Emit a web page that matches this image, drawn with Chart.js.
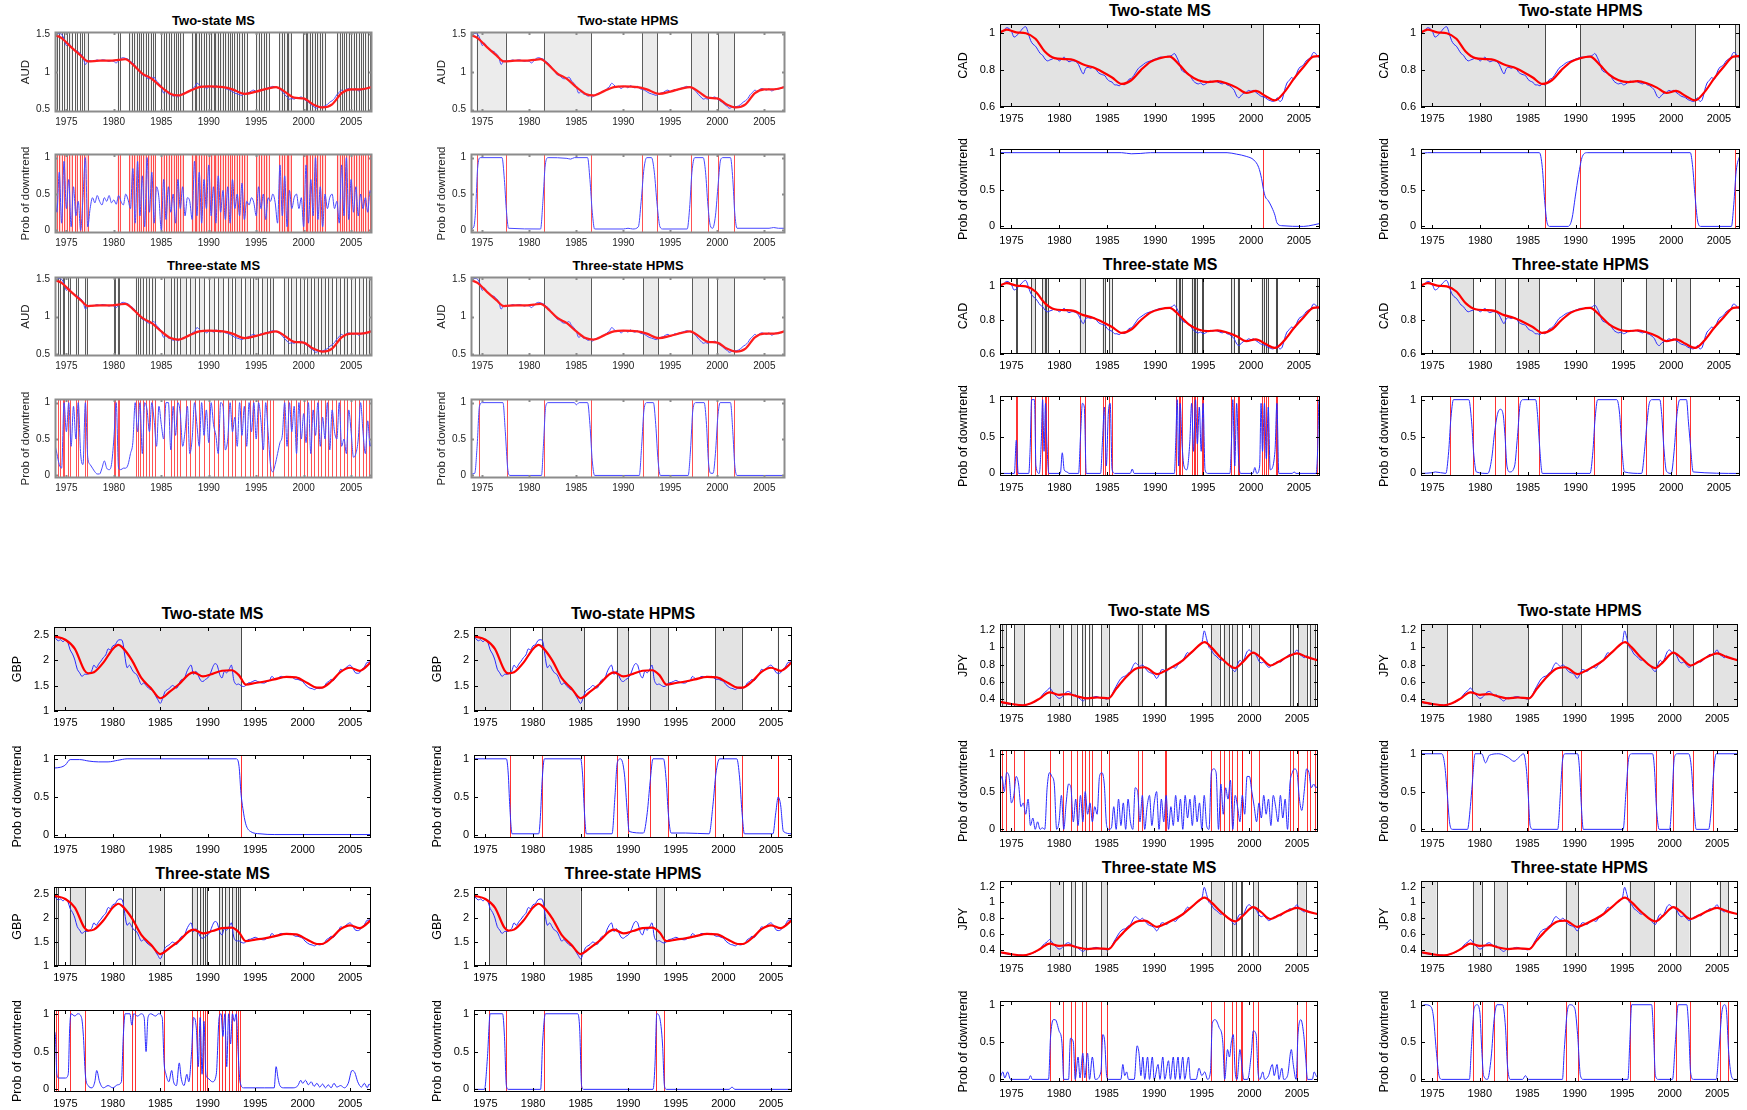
<!DOCTYPE html>
<html>
<head>
<meta charset="utf-8">
<script src="https://cdn.jsdelivr.net/npm/chart.js@4.4.1/dist/chart.umd.min.js"></script>
<style>
  html, body { margin: 0; padding: 0; background: #fff; }
  body { width: 1747px; height: 1110px; position: relative; overflow: hidden;
         font-family: "Liberation Sans", Arial, sans-serif; }
  .ttl { position: absolute; text-align: center; font-weight: bold; color: #000; white-space: nowrap; }
  .pnl { position: absolute; }
</style>
</head>
<body>
<script>
'use strict';

/* ── AXES ─────────────────────────── */
const X_MIN = 1973.8, X_MAX = 2007.2;
const YEAR_TICKS = [1975, 1980, 1985, 1990, 1995, 2000, 2005];
const PROB_TICKS = [0, 0.5, 1];
const AUD_TICKS  = [0.5, 1, 1.5];
const CAD_TICKS  = [0.6, 0.8, 1];
const GBP_TICKS  = [1, 1.5, 2, 2.5];
const JPY_TICKS  = [0.4, 0.6, 0.8, 1, 1.2];

/* ── QUARTERLY DATES ─────────────────────────── */
const QTR = [
  1973.75,
  1974, 1974.25, 1974.5, 1974.75,  1975, 1975.25, 1975.5, 1975.75,
  1976, 1976.25, 1976.5, 1976.75,  1977, 1977.25, 1977.5, 1977.75,
  1978, 1978.25, 1978.5, 1978.75,  1979, 1979.25, 1979.5, 1979.75,
  1980, 1980.25, 1980.5, 1980.75,  1981, 1981.25, 1981.5, 1981.75,
  1982, 1982.25, 1982.5, 1982.75,  1983, 1983.25, 1983.5, 1983.75,
  1984, 1984.25, 1984.5, 1984.75,  1985, 1985.25, 1985.5, 1985.75,
  1986, 1986.25, 1986.5, 1986.75,  1987, 1987.25, 1987.5, 1987.75,
  1988, 1988.25, 1988.5, 1988.75,  1989, 1989.25, 1989.5, 1989.75,
  1990, 1990.25, 1990.5, 1990.75,  1991, 1991.25, 1991.5, 1991.75,
  1992, 1992.25, 1992.5, 1992.75,  1993, 1993.25, 1993.5, 1993.75,
  1994, 1994.25, 1994.5, 1994.75,  1995, 1995.25, 1995.5, 1995.75,
  1996, 1996.25, 1996.5, 1996.75,  1997, 1997.25, 1997.5, 1997.75,
  1998, 1998.25, 1998.5, 1998.75,  1999, 1999.25, 1999.5, 1999.75,
  2000, 2000.25, 2000.5, 2000.75,  2001, 2001.25, 2001.5, 2001.75,
  2002, 2002.25, 2002.5, 2002.75,  2003, 2003.25, 2003.5, 2003.75,
  2004, 2004.25, 2004.5, 2004.75,  2005, 2005.25, 2005.5, 2005.75,
  2006, 2006.25, 2006.5, 2006.75,
  2007, 2007.25
];

/* ── EXCHANGE RATES (quarterly, blue) ─────────────────────────── */
const AUD_RAW = [
  1.48,
  1.50, 1.51, 1.50, 1.44,  1.35, 1.38, 1.33, 1.30,  1.28, 1.27, 1.24, 1.20,  1.10, 1.14, 1.15, 1.14,
  1.15, 1.16, 1.15, 1.16,  1.16, 1.15, 1.14, 1.15,  1.14, 1.12, 1.15, 1.18,  1.19, 1.18, 1.17, 1.14,
  1.12, 1.08, 1.03, 1.00,  0.96, 0.95, 0.92, 0.91,  0.92, 0.93, 0.88, 0.85,  0.80, 0.72, 0.74, 0.71,
  0.70, 0.68, 0.69, 0.67,  0.70, 0.71, 0.72, 0.74,  0.75, 0.78, 0.80, 0.85,  0.83, 0.80, 0.81, 0.78,
  0.80, 0.81, 0.79, 0.82,  0.80, 0.79, 0.81, 0.78,  0.77, 0.76, 0.74, 0.72,  0.71, 0.70, 0.69, 0.71,
  0.72, 0.73, 0.75, 0.76,  0.74, 0.75, 0.77, 0.76,  0.78, 0.79, 0.80, 0.81,  0.80, 0.79, 0.77, 0.74,
  0.70, 0.67, 0.64, 0.65,  0.64, 0.66, 0.66, 0.67,  0.64, 0.62, 0.60, 0.57,  0.55, 0.52, 0.53, 0.54,
  0.54, 0.55, 0.57, 0.60,  0.62, 0.65, 0.70, 0.73,  0.76, 0.74, 0.77, 0.78,  0.77, 0.76, 0.78, 0.75,
  0.76, 0.78, 0.77, 0.79,
  0.80, 0.81
];
const CAD_RAW = [
  1.0,
  1.005, 1.02, 1.03, 1.025,  1.01, 0.98, 0.985, 1.0,  1.015, 1.03, 1.035, 1.0,  0.96, 0.94, 0.93, 0.91,
  0.89, 0.88, 0.86, 0.85,  0.855, 0.86, 0.865, 0.86,  0.85, 0.86, 0.87, 0.855,  0.845, 0.85, 0.85, 0.845,
  0.83, 0.80, 0.78, 0.81,  0.815, 0.81, 0.815, 0.81,  0.79, 0.78, 0.775, 0.77,  0.75, 0.74, 0.735, 0.72,
  0.72, 0.715, 0.725, 0.72,  0.73, 0.75, 0.755, 0.77,  0.79, 0.81, 0.82, 0.83,  0.84, 0.845, 0.85, 0.855,
  0.86, 0.865, 0.87, 0.87,  0.87, 0.875, 0.875, 0.88,  0.89, 0.87, 0.84, 0.80,  0.79, 0.785, 0.78, 0.76,
  0.74, 0.73, 0.725, 0.73,  0.72, 0.725, 0.735, 0.74,  0.735, 0.74, 0.735, 0.73,  0.725, 0.73, 0.72, 0.715,
  0.705, 0.69, 0.66, 0.65,  0.665, 0.675, 0.68, 0.69,  0.685, 0.69, 0.68, 0.67,  0.66, 0.655, 0.65, 0.64,
  0.635, 0.63, 0.635, 0.65,  0.63, 0.64, 0.69, 0.73,  0.745, 0.76, 0.75, 0.78,  0.81, 0.82, 0.83, 0.85,
  0.86, 0.87, 0.895, 0.89,
  0.87, 0.875
];
const GBP_RAW = [
  2.50,
  2.42, 2.38, 2.40, 2.36,  2.40, 2.35, 2.20, 2.12,  2.00, 1.82, 1.75, 1.68,  1.72, 1.72, 1.74, 1.78,
  1.90, 1.85, 1.92, 1.98,  2.05, 2.10, 2.22, 2.20,  2.28, 2.30, 2.38, 2.40,  2.38, 2.10, 1.85, 1.90,
  1.82, 1.75, 1.72, 1.62,  1.52, 1.55, 1.50, 1.45,  1.42, 1.40, 1.30, 1.22,  1.15, 1.25, 1.38, 1.42,
  1.45, 1.50, 1.48, 1.45,  1.55, 1.62, 1.62, 1.75,  1.85, 1.90, 1.72, 1.78,  1.70, 1.60, 1.58, 1.62,
  1.65, 1.72, 1.85, 1.93,  1.90, 1.72, 1.65, 1.78,  1.75, 1.82, 1.90, 1.60,  1.52, 1.53, 1.50, 1.48,
  1.50, 1.55, 1.56, 1.58,  1.60, 1.58, 1.56, 1.55,  1.55, 1.58, 1.60, 1.68,  1.64, 1.62, 1.66, 1.68,
  1.67, 1.68, 1.66, 1.68,  1.65, 1.62, 1.62, 1.60,  1.58, 1.52, 1.48, 1.45,  1.44, 1.42, 1.45, 1.44,
  1.45, 1.47, 1.55, 1.58,  1.62, 1.60, 1.66, 1.72,  1.82, 1.80, 1.84, 1.88,  1.90, 1.85, 1.76, 1.74,
  1.75, 1.82, 1.86, 1.95,
  1.96, 2.0
];
const JPY_RAW = [
  0.37,
  0.36, 0.355, 0.35, 0.34,  0.345, 0.34, 0.34, 0.335,  0.335, 0.33, 0.33, 0.34,  0.35, 0.36, 0.37, 0.39,
  0.41, 0.45, 0.48, 0.50,  0.53, 0.50, 0.46, 0.43,  0.41, 0.42, 0.45, 0.48,  0.49, 0.47, 0.44, 0.45,
  0.42, 0.40, 0.38, 0.40,  0.42, 0.41, 0.42, 0.43,  0.43, 0.42, 0.41, 0.41,  0.40, 0.42, 0.44, 0.50,
  0.55, 0.60, 0.64, 0.66,  0.67, 0.70, 0.72, 0.78,  0.82, 0.80, 0.78, 0.80,  0.77, 0.73, 0.71, 0.70,
  0.68, 0.64, 0.68, 0.74,  0.74, 0.72, 0.74, 0.77,  0.77, 0.76, 0.80, 0.82,  0.85, 0.90, 0.94, 0.92,
  0.95, 0.97, 1.00, 1.02,  1.05, 1.19, 1.10, 1.00,  0.97, 0.92, 0.90, 0.87,  0.85, 0.86, 0.83, 0.80,
  0.78, 0.74, 0.72, 0.80,  0.85, 0.83, 0.88, 0.95,  0.97, 0.94, 0.93, 0.90,  0.84, 0.82, 0.83, 0.80,
  0.77, 0.78, 0.81, 0.82,  0.84, 0.83, 0.85, 0.88,  0.90, 0.92, 0.91, 0.94,  0.97, 0.92, 0.90, 0.88,
  0.90, 0.88, 0.87, 0.86,
  0.86, 0.85
];

/* ── TRENDS (red, year / value pairs) ─────────────────────────── */
const AUD_TREND = [
  1973.8, 1.49, 1974.5, 1.45, 1975.5, 1.33, 1976.5, 1.22, 1977.3, 1.14, 1978.5, 1.15, 1979.5, 1.15,
  1980.5, 1.16, 1981.2, 1.17, 1982, 1.10, 1983, 0.98, 1984, 0.91, 1985, 0.80, 1986, 0.71, 1986.8, 0.69,
  1988, 0.75, 1989, 0.80, 1990, 0.81, 1991.5, 0.80, 1992.5, 0.77, 1993.8, 0.71, 1995, 0.74, 1996.2, 0.78,
  1997.1, 0.80, 1998, 0.74, 1999, 0.66, 2000, 0.65, 2001, 0.57, 2002, 0.53, 2003, 0.57, 2004, 0.72,
  2005, 0.77, 2006, 0.77, 2007.2, 0.80
];
const CAD_TREND = [
  1973.8, 1.005, 1974.5, 1.02, 1975.5, 1.005, 1976.5, 1.0, 1977.5, 0.97, 1978.5, 0.90, 1979.5, 0.865,
  1980.5, 0.86, 1981.5, 0.855, 1982.5, 0.83, 1983.5, 0.815, 1984.5, 0.79, 1985.5, 0.76, 1986.5, 0.725,
  1987.5, 0.745, 1988.5, 0.80, 1989.5, 0.845, 1990.5, 0.865, 1991.5, 0.873, 1992.5, 0.83, 1993.5, 0.775,
  1994.5, 0.745, 1995.5, 0.735, 1996.5, 0.74, 1997.5, 0.727, 1998.5, 0.705, 1999.5, 0.676, 2000.5, 0.687,
  2001.5, 0.66, 2002.5, 0.636, 2003.5, 0.682, 2004.5, 0.755, 2005.5, 0.818, 2006.5, 0.873, 2007.2, 0.876
];
const GBP_TREND = [
  1973.8, 2.47, 1975, 2.40, 1976, 2.22, 1977, 1.80, 1977.4, 1.74, 1978, 1.76, 1979, 1.95, 1980, 2.22,
  1980.6, 2.30, 1981, 2.25, 1982, 2.00, 1983, 1.65, 1984, 1.45, 1985, 1.25, 1986, 1.38, 1987, 1.53,
  1988, 1.72, 1988.5, 1.76, 1989.5, 1.68, 1990.5, 1.73, 1991.5, 1.79, 1992.5, 1.80, 1993.3, 1.70,
  1994, 1.52, 1995, 1.55, 1996, 1.58, 1997, 1.62, 1998.3, 1.67, 1999.3, 1.66, 2000.5, 1.55, 2001.5, 1.46,
  2002, 1.46, 2003, 1.58, 2004, 1.77, 2005, 1.85, 2006, 1.79, 2007.2, 1.96
];
const JPY_TREND = [
  1973.8, 0.37, 1975, 0.345, 1976.2, 0.33, 1977, 0.35, 1978, 0.41, 1979, 0.48, 1980, 0.45, 1981, 0.46,
  1982, 0.43, 1983, 0.41, 1984, 0.42, 1985.2, 0.41, 1986, 0.52, 1987, 0.65, 1988, 0.75, 1989, 0.77,
  1990.3, 0.69, 1991, 0.72, 1992, 0.78, 1993, 0.85, 1994, 0.95, 1995.3, 1.06, 1996, 1.0, 1997, 0.88,
  1998.5, 0.76, 1999.3, 0.83, 2000.4, 0.94, 2001.2, 0.88, 2002.2, 0.79, 2003, 0.83, 2004, 0.89,
  2005, 0.93, 2006, 0.89, 2007.2, 0.85
];

/* ── REGIMES (shaded downtrend spells: start, end) ─────────────────────────── */
const AUD_MS2_BANDS = [
  [1973.8, 1974.0], [1974.2, 1974.5], [1974.8, 1975.1], [1975.3, 1975.6], [1975.9, 1976.1], [1976.4, 1976.6],
  [1976.9, 1977.3], [1980.4, 1980.6], [1981.6, 1981.9], [1982.1, 1982.4], [1982.6, 1982.9], [1983.1, 1983.4],
  [1983.6, 1983.9], [1984.1, 1984.3], [1985.0, 1985.3], [1985.5, 1985.8], [1986.0, 1986.3], [1986.5, 1986.8],
  [1987.0, 1987.3], [1988.2, 1988.5], [1988.7, 1989.0], [1989.2, 1989.5], [1989.7, 1990.0], [1990.2, 1990.5],
  [1990.7, 1991.0], [1991.2, 1991.5], [1991.7, 1992.0], [1992.2, 1992.5], [1992.7, 1993.0], [1993.2, 1993.5],
  [1993.7, 1994.0], [1995.0, 1995.3], [1995.5, 1995.8], [1996.0, 1996.3], [1997.4, 1997.7], [1997.9, 1998.2],
  [1998.4, 1998.7], [1999.9, 2000.2], [2000.4, 2000.7], [2000.9, 2001.2], [2001.4, 2001.7], [2001.9, 2002.2],
  [2003.5, 2003.8], [2004.0, 2004.3], [2004.5, 2004.8], [2005.0, 2005.3], [2005.5, 2005.8], [2006.0, 2006.3],
  [2006.5, 2006.8], [2007.0, 2007.2]
];
const AUD_HPMS2_BANDS = [[1974.4, 1977.5], [1981.55, 1986.6], [1992.0, 1993.6], [1997.2, 1999.0], [2000.1, 2001.8]];
const AUD_MS3_BANDS = [
  [1974.1, 1974.3], [1974.6, 1974.8], [1975.2, 1975.4], [1976.0, 1976.2], [1977.0, 1977.2], [1980.0, 1980.1],
  [1980.4, 1980.5], [1982.3, 1982.5], [1982.8, 1983.1], [1983.4, 1983.7], [1984.0, 1984.3], [1985.3, 1986.0],
  [1986.3, 1986.7], [1987.0, 1987.6], [1988.0, 1988.6], [1989.0, 1989.5], [1990.0, 1990.6], [1991.0, 1991.5],
  [1992.0, 1992.4], [1992.8, 1993.4], [1993.8, 1994.3], [1994.7, 1995.2], [1995.6, 1996.1], [1996.5, 1996.8],
  [1997.9, 1998.3], [1998.7, 1999.2], [1999.6, 2000.0], [2000.4, 2000.8], [2001.1, 2001.5], [2001.8, 2002.3],
  [2002.6, 2003.0], [2003.4, 2003.8], [2004.2, 2004.6], [2005.0, 2005.4], [2005.8, 2006.3], [2006.6, 2006.9]
];
const AUD_HPMS3_BANDS = [[1974.6, 1977.6], [1981.6, 1986.6], [1992.1, 1993.7], [1997.3, 1999.0], [2000.0, 2001.8]];

const CAD_MS2_BANDS = [[1973.8, 2001.25]];
const CAD_HPMS2_BANDS = [[1973.8, 1986.8], [1990.45, 2002.5], [2006.7, 2007.2]];
const CAD_MS3_BANDS = [
  [1975.5, 1975.6], [1977.05, 1977.47], [1978.2, 1978.5], [1978.6, 1978.8], [1982.1, 1982.7], [1984.5, 1984.75],
  [1985.2, 1985.45], [1992.2, 1992.45], [1992.6, 1992.75], [1993.8, 1994.1], [1994.2, 1994.4], [1994.9, 1995.0],
  [1997.9, 1998.2], [1998.6, 1998.75], [2001.1, 2001.35], [2001.6, 2001.8], [2002.6, 2002.7], [2006.9, 2007.2]
];
const CAD_HPMS3_BANDS = [[1976.85, 1979.25], [1981.6, 1982.6], [1983.95, 1986.2], [1991.95, 1994.75], [1997.35, 1999.15], [2000.55, 2002.0]];

const GBP_MS2_BANDS = [[1973.8, 1993.55]];
const GBP_HPMS2_BANDS = [[1973.8, 1977.54], [1980.92, 1985.4], [1988.8, 1989.97], [1992.3, 1994.17], [1999.13, 2001.93], [2005.7, 2005.76]];
const GBP_MS3_BANDS = [
  [1973.98, 1974.2], [1975.44, 1977.07], [1981.1, 1982.05], [1982.34, 1985.38], [1988.3, 1988.89], [1989.18, 1989.47],
  [1989.75, 1989.88], [1991.23, 1991.52], [1991.81, 1992.22], [1992.57, 1992.98], [1993.2, 1993.39]
];
const GBP_HPMS3_BANDS = [[1975.38, 1977.13], [1981.1, 1985.0], [1992.9, 1993.77]];

const JPY_MS2_BANDS = [
  [1973.97, 1974.38], [1975.32, 1976.3], [1979.04, 1980.39], [1981.26, 1981.84], [1982.42, 1982.72], [1983.18, 1983.42],
  [1984.46, 1985.22], [1988.25, 1988.72], [1991.12, 1991.2], [1995.94, 1996.88], [1997.28, 1997.87], [1998.16, 1998.74],
  [1999.2, 1999.25], [2000.2, 2000.96], [2004.28, 2004.57], [2005.15, 2006.03], [2006.32, 2006.9]
];
const JPY_HPMS2_BANDS = [[1973.8, 1976.55], [1979.19, 1985.11], [1988.62, 1990.67], [1995.48, 1998.58], [2000.34, 2002.5], [2004.56, 2007.2]];
const JPY_MS3_BANDS = [
  [1979.04, 1980.39], [1981.26, 1981.67], [1982.42, 1982.83], [1984.46, 1985.05], [1995.94, 1997.28],
  [1998.16, 1998.57], [1999.15, 1999.21], [2000.37, 2000.9], [2004.98, 2005.91]
];
const JPY_HPMS3_BANDS = [[1973.8, 1975.44], [1979.25, 1980.24], [1981.53, 1982.88], [1989.03, 1990.38], [1995.77, 1998.4], [2000.63, 2002.1], [2005.26, 2006.14]];

/* ── PROBABILITY OF DOWNTREND ─────────────────────────── */
// quarterly (on QTR)
const AUD_MS2_PROB = [
  0.55,
  0.25, 0.8, 0.1, 0.95,  0.3, 0.7, 0.05, 0.6,  0.2, 0.4, 0.0, 0.45,  1.0, 0.05, 0.3, 0.45,
  0.38, 0.48, 0.4, 0.35,  0.45, 0.4, 0.48, 0.38,  0.42, 0.36, 0.48, 0.4,  0.35, 0.5, 0.42, 0.3,
  0.85, 0.1, 0.95, 0.2,  0.75, 0.05, 1.0, 0.25,  0.8, 0.1, 0.6, 0.45,  0.0, 0.7, 0.15, 0.6,
  0.25, 0.5, 0.1, 0.7,  0.3, 0.6, 0.2, 0.45,  0.4, 0.15, 0.95, 0.2,  0.8, 0.1, 0.7, 0.3,
  0.9, 0.2, 0.6, 0.1,  0.75, 0.25, 0.55, 0.15,  0.6, 0.1, 0.7, 0.3,  0.5, 0.2, 0.65, 0.15,
  0.4, 0.35, 0.45, 0.38,  0.2, 0.6, 0.3, 0.5,  0.15, 0.45, 0.4, 0.5,  0.38, 0.1, 0.9, 0.2,
  0.75, 0.05, 0.55, 0.3,  0.45, 0.5, 0.3, 0.45,  0.05, 0.9, 0.1, 0.7,  0.2, 1.0, 0.15, 0.6,
  0.05, 0.5, 0.3, 0.45,  0.5, 0.3, 0.4, 0.1,  0.9, 0.2, 1.0, 0.15,  0.7, 0.25, 0.6, 0.2,
  0.5, 0.3, 0.45, 0.25,
  0.55, 0.4
];
const AUD_MS3_PROB = [
  0.45,
  0.3, 0.15, 0.1, 1.0,  0.6, 1.0, 0.4, 0.95,  0.5, 1.0, 0.3, 0.15,  1.0, 0.25, 0.15, 0.1,
  0.05, 0.02, 0.02, 0.1,  0.2, 0.1, 0.08, 0.15,  0.5, 1.0, 0.1, 0.08,  0.1, 0.1, 0.15, 0.3,
  0.45, 1.0, 0.6, 1.0,  0.3, 1.0, 0.9, 0.6,  1.0, 0.75, 0.4, 0.95,  0.7, 0.5, 1.0, 1.0,
  0.35, 0.95, 0.55, 1.0,  0.85, 0.4, 0.6, 0.95,  0.3, 0.5, 1.0, 0.7,  0.4, 1.0, 0.55, 0.9,
  0.45, 1.0, 0.7, 0.55,  0.3, 1.0, 0.95, 0.35,  0.5, 1.0, 0.6, 0.8,  0.4, 1.0, 0.55, 0.95,
  0.4, 1.0, 0.6, 1.0,  0.5, 1.0, 0.75, 0.35,  1.0, 0.6, 0.15, 0.05,  0.15, 0.3, 0.45, 0.55,
  1.0, 0.4, 1.0, 0.6,  0.95, 0.3, 1.0, 0.5,  0.85, 0.45, 1.0, 0.3,  0.9, 0.55, 1.0, 0.4,
  0.8, 0.5, 1.0, 0.35,  0.9, 0.6, 0.5, 1.0,  0.4, 0.5, 0.3, 0.9,  0.6, 0.25, 0.3, 0.5,
  1.0, 0.6, 0.3, 0.75,
  0.4, 0.6
];
const JPY_MS2_PROB = [
  0.6,
  0.7, 0.5, 0.75, 0.7,  0.35, 0.45, 0.7, 0.6,  0.3, 0.35, 0.2, 0.4,  0.05, 0.15, 0.0, 0.1,
  0.0, 0.02, 0.0, 0.55,  0.75, 0.7, 0.6, 0.0,  0.1, 0.45, 0.0, 0.35,  0.6, 0.55, 0.1, 0.4,
  0.05, 0.45, 0.1, 0.5,  0.2, 0.35, 0.1, 0.3,  0.2, 0.7, 0.75, 0.6,  0.05, 0.0, 0.02, 0.3,
  0.0, 0.4, 0.05, 0.35,  0.0, 0.4, 0.1, 0.0,  0.55, 0.5, 0.1, 0.45,  0.0, 0.3, 0.45, 0.05,
  0.35, 0.5, 0.0, 0.4,  0.1, 0.45, 0.0, 0.3,  0.05, 0.45, 0.1, 0.4,  0.0, 0.45, 0.15, 0.4,
  0.05, 0.45, 0.1, 0.35,  0.0, 0.45, 0.05, 0.0,  0.75, 0.8, 0.75, 0.0,  0.6, 0.2, 0.55, 0.4,
  0.65, 0.0, 0.45, 0.3,  0.1, 0.45, 0.2, 0.7,  0.7, 0.5, 0.3, 0.1,  0.35, 0.15, 0.45, 0.2,
  0.4, 0.05, 0.45, 0.3,  0.1, 0.45, 0.15, 0.4,  0.0, 0.6, 0.75, 0.8,  0.75, 0.4, 0.25, 0.5,
  0.8, 0.75, 0.55, 0.6,
  0.55, 0.6
];
// year / value pairs
const AUD_HPMS2_PROB = [
  1973.8, 0.02, 1974.1, 0.05, 1974.3, 0.3, 1974.5, 0.85, 1974.8, 1.0, 1977.1, 1.0, 1977.35, 0.7, 1977.55, 0.3,
  1977.8, 0.03, 1981.2, 0.02, 1981.45, 0.4, 1981.7, 0.9, 1982.0, 1.0, 1984.0, 0.99, 1984.4, 0.98, 1984.8, 1.0,
  1986.2, 1.0, 1986.45, 0.7, 1986.7, 0.25, 1986.95, 0.02, 1990.0, 0.02, 1990.5, 0.03, 1991.0, 0.02, 1991.6, 0.05,
  1991.9, 0.4, 1992.2, 0.85, 1992.5, 1.0, 1993.0, 1.0, 1993.3, 0.8, 1993.6, 0.35, 1993.9, 0.05, 1994.2, 0.02,
  1996.8, 0.02, 1997.05, 0.3, 1997.3, 0.8, 1997.6, 1.0, 1998.5, 1.0, 1998.75, 0.8, 1999.0, 0.35, 1999.25, 0.07,
  1999.5, 0.03, 1999.8, 0.2, 2000.1, 0.65, 2000.35, 0.97, 2000.6, 1.0, 2001.4, 1.0, 2001.65, 0.7, 2001.85, 0.25,
  2002.1, 0.03, 2005.5, 0.03, 2006, 0.04, 2006.5, 0.03, 2007.2, 0.03
];
const AUD_HPMS3_PROB = [
  1973.8, 0.02, 1974.2, 0.03, 1974.45, 0.4, 1974.7, 0.95, 1975.0, 1.0, 1977.2, 1.0, 1977.45, 0.6, 1977.7, 0.1,
  1977.95, 0.0, 1981.3, 0.0, 1981.5, 0.4, 1981.75, 0.95, 1982.0, 1.0, 1984.8, 1.0, 1985.0, 0.97, 1985.3, 1.0,
  1986.2, 1.0, 1986.45, 0.7, 1986.7, 0.2, 1986.95, 0.0, 1991.7, 0.0, 1991.95, 0.4, 1992.2, 0.9, 1992.5, 1.0,
  1993.2, 1.0, 1993.45, 0.7, 1993.7, 0.2, 1993.95, 0.0, 1996.9, 0.0, 1997.15, 0.35, 1997.4, 0.9, 1997.7, 1.0,
  1998.6, 1.0, 1998.85, 0.7, 1999.05, 0.2, 1999.3, 0.03, 1999.55, 0.03, 1999.8, 0.3, 2000.05, 0.8, 2000.3, 1.0,
  2001.4, 1.0, 2001.65, 0.6, 2001.85, 0.15, 2002.1, 0.0, 2007.2, 0.0
];
const CAD_MS2_PROB = [
  1973.8, 1.0, 1986.5, 1.0, 1987.5, 0.985, 1988.5, 0.99, 1989.5, 1.0, 1997.5, 1.0, 1998.5, 0.98, 1999.5, 0.95,
  2000.3, 0.9, 2000.8, 0.8, 2001.1, 0.65, 2001.3, 0.5, 2001.5, 0.4, 2001.8, 0.35, 2002.2, 0.25, 2002.5, 0.15,
  2002.7, 0.05, 2003.2, 0.01, 2005.5, 0.0, 2006.5, 0.02, 2007.2, 0.04
];
const CAD_HPMS2_PROB = [
  1973.8, 0.99, 1974.5, 1.0, 1986.2, 1.0, 1986.5, 0.8, 1986.75, 0.35, 1987.0, 0.05, 1987.3, 0.0, 1989.2, 0.0,
  1989.6, 0.1, 1989.95, 0.4, 1990.3, 0.7, 1990.7, 0.95, 1991.2, 1.0, 2002.0, 1.0, 2002.25, 0.8, 2002.5, 0.4,
  2002.8, 0.05, 2003.1, 0.0, 2006.3, 0.0, 2006.55, 0.3, 2006.8, 0.75, 2007.2, 0.97
];
const CAD_MS3_PROB = [
  1973.8, 0, 1975.3, 0, 1975.5, 0.45, 1975.7, 0, 1976.8, 0, 1976.95, 0.35, 1977.1, 1.0, 1977.4, 1.0, 1977.55, 0.1,
  1977.9, 0.0, 1978.1, 0.4, 1978.25, 1.0, 1978.4, 0.3, 1978.55, 0.95, 1978.7, 0.4, 1978.9, 0.0, 1980.1, 0.0,
  1980.3, 0.28, 1980.5, 0.05, 1980.8, 0.02, 1981.0, 0.0, 1982.0, 0.0, 1982.2, 0.5, 1982.4, 0.95, 1982.6, 0.9,
  1982.8, 0.0, 1984.3, 0.0, 1984.5, 0.45, 1984.7, 0.9, 1984.9, 0.1, 1985.1, 0.8, 1985.3, 0.95, 1985.5, 0.05,
  1985.8, 0.0, 1987.4, 0.0, 1987.6, 0.06, 1987.8, 0.0, 1992.0, 0.0, 1992.15, 0.45, 1992.3, 1.0, 1992.45, 0.1,
  1992.6, 0.95, 1992.8, 0.4, 1993.0, 0.1, 1993.3, 0.05, 1993.6, 0.4, 1993.8, 0.95, 1994.0, 0.3, 1994.2, 1.0,
  1994.4, 0.4, 1994.6, 0.9, 1994.8, 0.3, 1995.0, 0.95, 1995.2, 0.05, 1995.5, 0.0, 1997.8, 0.0, 1997.95, 0.4,
  1998.1, 1.0, 1998.3, 0.1, 1998.5, 0.95, 1998.7, 0.2, 1998.9, 0.0, 2000.2, 0.0, 2000.4, 0.08, 2000.6, 0.0,
  2000.9, 0.1, 2001.05, 0.95, 2001.2, 0.3, 2001.4, 0.95, 2001.6, 0.2, 2001.8, 0.9, 2002.0, 0.05, 2002.5, 0.3,
  2002.7, 0.95, 2002.9, 0.0, 2004.3, 0.0, 2004.5, 0.02, 2004.7, 0.0, 2006.8, 0.0, 2006.95, 0.3, 2007.1, 1.0,
  2007.2, 0.9
];
const CAD_HPMS3_PROB = [
  1973.8, 0, 1975, 0.01, 1975.3, 0.02, 1976.4, 0.0, 1976.7, 0.3, 1976.9, 0.7, 1977.2, 1.0, 1978.8, 1.0,
  1979.1, 0.7, 1979.3, 0.3, 1979.6, 0.02, 1980.8, 0.0, 1981.2, 0.2, 1981.5, 0.55, 1981.8, 0.8, 1982.1, 0.87,
  1982.4, 0.8, 1982.6, 0.5, 1982.8, 0.1, 1983.1, 0.02, 1983.6, 0.1, 1983.9, 0.5, 1984.2, 0.95, 1984.5, 1.0,
  1985.8, 1.0, 1986.0, 0.8, 1986.2, 0.4, 1986.5, 0.0, 1991.5, 0.0, 1991.8, 0.3, 1992.0, 0.7, 1992.3, 1.0,
  1994.3, 1.0, 1994.6, 0.8, 1994.8, 0.4, 1995.1, 0.02, 1996.9, 0.0, 1997.2, 0.3, 1997.4, 0.6, 1997.7, 0.95,
  1998.0, 1.0, 1998.8, 1.0, 1999.0, 0.8, 1999.2, 0.4, 1999.5, 0.03, 2000.0, 0.0, 2000.3, 0.3, 2000.6, 0.8,
  2000.9, 1.0, 2001.6, 1.0, 2001.8, 0.7, 2002.0, 0.4, 2002.3, 0.02, 2007.2, 0.0
];
const GBP_MS2_PROB = [
  1973.8, 0.88, 1974.5, 0.89, 1975.0, 0.92, 1975.5, 0.99, 1976.5, 0.99, 1977.5, 0.97, 1978.5, 0.96, 1979.5, 0.96,
  1980.5, 0.98, 1981.5, 1.0, 1993.0, 1.0, 1993.3, 0.9, 1993.5, 0.55, 1993.7, 0.35, 1994.0, 0.15, 1994.5, 0.05,
  1995.5, 0.02, 1997, 0.01, 2007.2, 0.01
];
const GBP_HPMS2_PROB = [
  1973.8, 1.0, 1977.2, 1.0, 1977.4, 0.8, 1977.55, 0.4, 1977.8, 0.02, 1980.6, 0.02, 1980.8, 0.3, 1980.95, 0.7,
  1981.2, 1.0, 1985.0, 1.0, 1985.2, 0.8, 1985.4, 0.3, 1985.6, 0.02, 1988.3, 0.02, 1988.6, 0.5, 1988.85, 0.95,
  1989.2, 1.0, 1989.6, 0.8, 1989.9, 0.3, 1990.1, 0.05, 1991.6, 0.03, 1992.0, 0.3, 1992.3, 0.7, 1992.6, 1.0,
  1993.7, 1.0, 1994.0, 0.7, 1994.2, 0.3, 1994.5, 0.03, 1996, 0.03, 1998.5, 0.02, 1998.9, 0.4, 1999.2, 0.8,
  1999.6, 1.0, 2001.4, 1.0, 2001.7, 0.75, 2001.95, 0.3, 2002.2, 0.02, 2005.2, 0.02, 2005.5, 0.3, 2005.75, 0.5,
  2006.0, 0.4, 2006.3, 0.05, 2007.2, 0.02
];
const GBP_MS3_PROB = [
  1973.8, 0.78, 1973.95, 0.7, 1974.1, 0.2, 1974.3, 0.15, 1975.0, 0.15, 1975.3, 0.2, 1975.45, 0.8, 1975.6, 1.0,
  1976.0, 0.97, 1976.3, 1.0, 1976.7, 0.95, 1976.9, 0.7, 1977.1, 0.2, 1977.4, 0.05, 1977.8, 0.02, 1978.1, 0.1,
  1978.3, 0.25, 1978.6, 0.1, 1979, 0.02, 1979.5, 0.05, 1980, 0.02, 1980.5, 0.06, 1980.9, 0.1, 1981.1, 0.7,
  1981.3, 1.0, 1981.8, 1.0, 1982.0, 0.85, 1982.2, 1.0, 1982.6, 0.97, 1983.0, 1.0, 1983.3, 0.95, 1983.5, 0.5,
  1983.7, 0.95, 1984.0, 1.0, 1984.5, 0.97, 1984.8, 1.0, 1985.2, 0.95, 1985.4, 0.35, 1985.6, 0.2, 1985.9, 0.1,
  1986.2, 0.25, 1986.4, 0.1, 1986.7, 0.05, 1987.0, 0.35, 1987.2, 0.15, 1987.5, 0.05, 1987.8, 0.2, 1988.0, 0.1,
  1988.3, 0.5, 1988.5, 0.95, 1988.8, 0.8, 1989.0, 0.3, 1989.2, 0.95, 1989.4, 0.2, 1989.6, 0.9, 1989.8, 0.2,
  1990.0, 0.15, 1990.5, 0.1, 1990.9, 0.2, 1991.2, 0.95, 1991.4, 1.0, 1991.6, 0.7, 1991.8, 1.0, 1992.0, 0.3,
  1992.2, 1.0, 1992.4, 0.6, 1992.6, 1.0, 1992.8, 0.9, 1993.0, 1.0, 1993.2, 0.5, 1993.4, 0.1, 1993.8, 0.02,
  1995, 0.02, 1996, 0.02, 1997.0, 0.02, 1997.2, 0.3, 1997.4, 0.15, 1997.6, 0.05, 1998, 0.02, 1999, 0.02,
  1999.5, 0.05, 1999.8, 0.12, 2000.0, 0.08, 2000.3, 0.12, 2000.6, 0.06, 2000.9, 0.1, 2001.2, 0.04, 2001.5, 0.08,
  2001.8, 0.03, 2002.1, 0.07, 2002.4, 0.02, 2002.7, 0.06, 2003.0, 0.02, 2003.3, 0.08, 2003.6, 0.03, 2004.0, 0.05,
  2004.4, 0.02, 2004.8, 0.08, 2005.2, 0.25, 2005.5, 0.22, 2005.8, 0.1, 2006.2, 0.03, 2006.5, 0.08, 2006.8, 0.02,
  2007.0, 0.07, 2007.2, 0.04
];
const GBP_HPMS3_PROB = [
  1973.8, 0.0, 1974.9, 0.0, 1975.2, 0.4, 1975.5, 1.0, 1976.8, 1.0, 1977.0, 0.7, 1977.2, 0.05, 1977.4, 0.0,
  1980.8, 0.0, 1981.0, 0.6, 1981.3, 1.0, 1984.7, 1.0, 1984.9, 0.8, 1985.1, 0.05, 1985.3, 0.0, 1992.6, 0.0,
  1992.8, 0.3, 1993.0, 1.0, 1993.3, 0.95, 1993.6, 0.6, 1993.8, 0.05, 1994.0, 0.0, 2000.6, 0.0, 2000.9, 0.03,
  2001.2, 0.0, 2007.2, 0.0
];
const JPY_HPMS2_PROB = [
  1973.8, 1.0, 1976.0, 1.0, 1976.3, 0.85, 1976.55, 0.5, 1976.8, 0.1, 1977.1, 0.0, 1978.7, 0.0, 1979.0, 0.3,
  1979.2, 0.6, 1979.5, 1.0, 1980.2, 1.0, 1980.6, 0.88, 1981.0, 0.98, 1982.0, 1.0, 1983.0, 0.95, 1983.6, 0.9,
  1984.1, 0.95, 1984.6, 1.0, 1984.9, 0.8, 1985.1, 0.45, 1985.3, 0.05, 1985.6, 0.0, 1988.2, 0.0, 1988.5, 0.5,
  1988.7, 0.9, 1989.0, 1.0, 1990.3, 1.0, 1990.5, 0.8, 1990.7, 0.3, 1990.9, 0.0, 1995.1, 0.0, 1995.4, 0.5,
  1995.7, 0.95, 1996.0, 1.0, 1998.2, 1.0, 1998.4, 0.8, 1998.6, 0.3, 1998.9, 0.0, 2000.0, 0.0, 2000.2, 0.3,
  2000.5, 0.95, 2000.8, 1.0, 2002.0, 1.0, 2002.3, 0.8, 2002.5, 0.4, 2002.8, 0.0, 2004.1, 0.0, 2004.4, 0.3,
  2004.6, 0.7, 2004.9, 1.0, 2007.2, 1.0
];
const JPY_MS3_PROB = [
  1973.8, 0.02, 1974.1, 0.1, 1974.3, 0.02, 1974.6, 0.1, 1974.9, 0.0, 1976.8, 0.0, 1977.0, 0.05, 1977.2, 0.0,
  1978.9, 0.0, 1979.1, 0.55, 1979.4, 0.8, 1979.6, 0.8, 1980.0, 0.65, 1980.3, 0.5, 1980.5, 0.0, 1981.0, 0.0,
  1981.2, 0.55, 1981.5, 0.5, 1981.7, 0.0, 1982.0, 0.3, 1982.2, 0.02, 1982.5, 0.35, 1982.7, 0.02, 1983.0, 0.35,
  1983.2, 0.0, 1983.5, 0.3, 1983.8, 0.0, 1984.4, 0.1, 1984.6, 0.6, 1984.8, 0.5, 1985.0, 0.05, 1985.2, 0.0,
  1986.5, 0.0, 1986.7, 0.2, 1986.9, 0.05, 1987.1, 0.1, 1987.3, 0.0, 1987.9, 0.0, 1988.2, 0.45, 1988.4, 0.35,
  1988.6, 0.05, 1988.8, 0.3, 1989.0, 0.0, 1989.3, 0.3, 1989.5, 0.0, 1989.8, 0.3, 1990.0, 0.0, 1990.4, 0.2,
  1990.6, 0.0, 1990.9, 0.3, 1991.1, 0.0, 1991.5, 0.25, 1991.7, 0.0, 1992.0, 0.3, 1992.2, 0.0, 1992.5, 0.3,
  1992.7, 0.0, 1993.0, 0.3, 1993.2, 0.0, 1993.6, 0.3, 1993.8, 0.0, 1994.4, 0.0, 1994.7, 0.15, 1995.0, 0.05,
  1995.3, 0.1, 1995.6, 0.0, 1995.9, 0.1, 1996.1, 0.75, 1996.4, 0.8, 1996.8, 0.7, 1997.2, 0.5, 1997.4, 0.0,
  1997.7, 0.4, 1997.9, 0.3, 1998.1, 0.5, 1998.3, 0.6, 1998.5, 0.1, 1998.7, 0.0, 1999.0, 0.4, 1999.2, 0.2,
  1999.4, 0.0, 1999.8, 0.0, 2000.2, 0.35, 2000.4, 0.65, 2000.7, 0.6, 2000.9, 0.1, 2001.1, 0.0, 2001.4, 0.1,
  2001.6, 0.0, 2002.0, 0.05, 2002.4, 0.2, 2002.6, 0.05, 2002.9, 0.2, 2003.1, 0.0, 2003.4, 0.15, 2003.6, 0.0,
  2004.0, 0.05, 2004.4, 0.4, 2004.6, 0.2, 2004.9, 0.0, 2005.1, 0.6, 2005.4, 0.8, 2005.7, 0.6, 2005.9, 0.3,
  2006.1, 0.0, 2006.6, 0.0, 2006.8, 0.1, 2007.0, 0.05, 2007.2, 0.02
];
const JPY_HPMS3_PROB = [
  1973.8, 0.97, 1974.2, 1.0, 1974.8, 0.98, 1975.1, 0.85, 1975.4, 0.4, 1975.7, 0.05, 1976.0, 0.0, 1978.9, 0.0,
  1979.1, 0.4, 1979.4, 0.95, 1979.7, 1.0, 1980.0, 0.9, 1980.2, 0.4, 1980.4, 0.05, 1980.8, 0.0, 1981.2, 0.3,
  1981.5, 0.8, 1981.8, 1.0, 1982.4, 1.0, 1982.7, 0.7, 1982.9, 0.2, 1983.2, 0.0, 1984.5, 0.0, 1984.8, 0.05,
  1985.1, 0.0, 1988.7, 0.0, 1988.9, 0.4, 1989.2, 0.9, 1989.5, 1.0, 1990.0, 0.95, 1990.3, 0.6, 1990.6, 0.05,
  1990.9, 0.0, 1995.6, 0.0, 1995.8, 0.5, 1996.0, 1.0, 1998.1, 1.0, 1998.3, 0.6, 1998.5, 0.05, 1998.8, 0.0,
  2000.3, 0.0, 2000.6, 0.5, 2000.9, 1.0, 2001.8, 1.0, 2002.0, 0.7, 2002.2, 0.1, 2002.5, 0.0, 2004.9, 0.0,
  2005.2, 0.4, 2005.5, 0.9, 2005.8, 1.0, 2006.0, 0.9, 2006.2, 0.4, 2006.5, 0.05, 2006.8, 0.0, 2007.2, 0.0
];

const MODELS = ['Two-state MS', 'Two-state HPMS', 'Three-state MS', 'Three-state HPMS'];

/* ── HELPERS ─────────────────────────── */
const onQtr = ys => ys.map((y, i) => ({ x: QTR[i], y }));
const fromPairs = flat => {
  const out = [];
  for (let i = 0; i < flat.length; i += 2) out.push({ x: flat[i], y: flat[i + 1] });
  return out;
};

/* ── CURRENCY TABLE ─────────────────────────── */
const CURRENCIES = {
  AUD: { raw: AUD_RAW, trend: AUD_TREND, min: 0.47, max: 1.53, ticks: AUD_TICKS,
         bands: [AUD_MS2_BANDS, AUD_HPMS2_BANDS, AUD_MS3_BANDS, AUD_HPMS3_BANDS],
         probs: [onQtr(AUD_MS2_PROB), fromPairs(AUD_HPMS2_PROB), onQtr(AUD_MS3_PROB), fromPairs(AUD_HPMS3_PROB)] },
  CAD: { raw: CAD_RAW, trend: CAD_TREND, min: 0.6, max: 1.05, ticks: CAD_TICKS,
         bands: [CAD_MS2_BANDS, CAD_HPMS2_BANDS, CAD_MS3_BANDS, CAD_HPMS3_BANDS],
         probs: [fromPairs(CAD_MS2_PROB), fromPairs(CAD_HPMS2_PROB), fromPairs(CAD_MS3_PROB), fromPairs(CAD_HPMS3_PROB)] },
  GBP: { raw: GBP_RAW, trend: GBP_TREND, min: 1, max: 2.65, ticks: GBP_TICKS,
         bands: [GBP_MS2_BANDS, GBP_HPMS2_BANDS, GBP_MS3_BANDS, GBP_HPMS3_BANDS],
         probs: [fromPairs(GBP_MS2_PROB), fromPairs(GBP_HPMS2_PROB), fromPairs(GBP_MS3_PROB), fromPairs(GBP_HPMS3_PROB)] },
  JPY: { raw: JPY_RAW, trend: JPY_TREND, min: 0.31, max: 1.27, ticks: JPY_TICKS,
         bands: [JPY_MS2_BANDS, JPY_HPMS2_BANDS, JPY_MS3_BANDS, JPY_HPMS3_BANDS],
         probs: [onQtr(JPY_MS2_PROB), fromPairs(JPY_HPMS2_PROB), fromPairs(JPY_MS3_PROB), fromPairs(JPY_HPMS3_PROB)] },
};

/* ── LAYOUT (plot boxes in page pixels) ─────────────────────────── */
const QUADS = [
  { cur: 'AUD', look: 'soft',  cols: [[55, 372], [471, 785]],
    rows: [[32, 112], [154, 233], [277, 356], [399, 478]], titles: [20, 265] },
  { cur: 'CAD', look: 'sharp', cols: [[1000, 1320], [1421, 1740]],
    rows: [[24, 107], [149, 229], [278, 354], [396, 476]], titles: [11, 265] },
  { cur: 'GBP', look: 'sharp', cols: [[54, 371], [474, 792]],
    rows: [[627, 711], [755, 838], [887, 966], [1010, 1092]], titles: [614, 874] },
  { cur: 'JPY', look: 'sharp', cols: [[1000, 1318], [1421, 1738]],
    rows: [[624, 707], [750, 832], [881, 957], [1001, 1082]], titles: [611, 868] },
];

const FONT = '"Liberation Sans", Arial, sans-serif';
const LOOKS = {
  soft:  { yw: 36, xh: 18, xpad: 4, tick: 10, label: 11.5, title: 13, box: '#8c8c8c', boxW: 2, tickLen: 3, text: '#222',
           blue: '#4848ff', red: '#ff1c1c', shade: '#ececec', edge: '#5c5c5c',
           probEdge: 'rgba(255,40,40,0.8)', probFill: 'rgba(255,120,120,0.35)' },
  sharp: { yw: 44, xh: 20, xpad: 5, tick: 11, label: 12.5, title: 16, box: '#000', boxW: 1, tickLen: 4, text: '#000',
           blue: '#2a2aff', red: '#ff0000', shade: '#e3e3e3', edge: '#4a4a4a',
           probEdge: 'rgba(255,0,0,0.8)', probFill: null },
};

/* ── PLUGINS ─────────────────────────── */
// shaded regime spells with boundary lines
const bandsPlugin = {
  id: 'bands',
  beforeDatasetsDraw(chart, args, opts) {
    if (!opts.list) return;
    const { ctx, chartArea: a, scales: { x } } = chart;
    ctx.save();
    ctx.beginPath(); ctx.rect(a.left, a.top, a.right - a.left, a.bottom - a.top); ctx.clip();
    if (opts.fill) {
      ctx.fillStyle = opts.fill;
      opts.list.forEach(([s, e]) => {
        const x0 = x.getPixelForValue(s), x1 = x.getPixelForValue(e);
        ctx.fillRect(x0, a.top, x1 - x0, a.bottom - a.top);
      });
    }
    ctx.strokeStyle = opts.line;
    ctx.lineWidth = 1;
    opts.list.forEach(pair => pair.forEach(v => {
      const px = Math.round(x.getPixelForValue(v)) + 0.5;
      ctx.beginPath(); ctx.moveTo(px, a.top); ctx.lineTo(px, a.bottom); ctx.stroke();
    }));
    ctx.restore();
  }
};

// MATLAB-style box with inward ticks on all four sides
const boxPlugin = {
  id: 'mbox',
  afterDraw(chart, args, opts) {
    const { ctx, chartArea: a, scales: { x, y } } = chart;
    const L = opts.len;
    ctx.save();
    ctx.strokeStyle = opts.color;
    ctx.lineWidth = opts.width;
    const seg = (x0, y0, x1, y1) => { ctx.beginPath(); ctx.moveTo(x0, y0); ctx.lineTo(x1, y1); ctx.stroke(); };
    x.ticks.forEach(t => {
      const p = Math.round(x.getPixelForValue(t.value)) + 0.5;
      seg(p, a.bottom, p, a.bottom - L); seg(p, a.top, p, a.top + L);
    });
    y.ticks.forEach(t => {
      const p = Math.round(y.getPixelForValue(t.value)) + 0.5;
      seg(a.left, p, a.left + L, p); seg(a.right, p, a.right - L, p);
    });
    ctx.strokeRect(a.left + 0.5, a.top + 0.5, a.right - a.left - 1, a.bottom - a.top - 1);
    ctx.restore();
  }
};

Chart.register(bandsPlugin, boxPlugin);

/* ── PANEL BUILDER ─────────────────────────── */
function makePanel(box, look, yCfg, datasets, bands) {
  const PT = 18, PR = 6;
  const w = box.r - box.l, h = box.b - box.t;
  const wrap = document.createElement('div');
  wrap.className = 'pnl';
  wrap.style.left = (box.l - look.yw) + 'px';
  wrap.style.top = (box.t - PT) + 'px';
  const cv = document.createElement('canvas');
  cv.width = w + look.yw + PR;
  cv.height = h + PT + look.xh;
  wrap.appendChild(cv);
  document.body.appendChild(wrap);

  const tickFont = { family: FONT, size: look.tick };
  const chart = new Chart(cv, {
    type: 'line',
    data: { datasets },
    options: {
      responsive: false,
      animation: false,
      events: [],
      layout: { padding: { top: PT, right: PR, left: 0, bottom: 0 } },
      elements: { point: { radius: 0 } },
      plugins: {
        legend: { display: false },
        tooltip: { enabled: false },
        bands: bands,
        mbox: { color: look.box, width: look.boxW, len: look.tickLen },
      },
      scales: {
        x: {
          type: 'linear', min: X_MIN, max: X_MAX,
          afterBuildTicks: s => { s.ticks = YEAR_TICKS.map(v => ({ value: v })); },
          afterFit: s => { s.height = look.xh; },
          grid: { display: false, drawTicks: false }, border: { display: false },
          ticks: { font: tickFont, color: look.text, padding: look.xpad, maxRotation: 0, autoSkip: false,
                   callback: v => String(v) },
        },
        y: {
          type: 'linear', min: yCfg.min, max: yCfg.max,
          afterBuildTicks: s => { s.ticks = yCfg.ticks.map(v => ({ value: v })); },
          afterFit: s => { s.width = look.yw; },
          grid: { display: false, drawTicks: false }, border: { display: false },
          ticks: { font: tickFont, color: look.text, padding: 5, callback: v => String(v) },
          title: { display: true, text: yCfg.label, color: look.text,
                   font: { family: FONT, size: look.label }, padding: { top: 0, bottom: 2 } },
        },
      },
    },
  });

  // snap chart area onto the target box
  const a = chart.chartArea;
  wrap.style.left = (box.l - a.left) + 'px';
  wrap.style.top = (box.t - a.top) + 'px';
}

function addTitle(text, l, r, yc, size) {
  const d = document.createElement('div');
  d.className = 'ttl';
  d.textContent = text;
  d.style.left = l + 'px';
  d.style.width = (r - l) + 'px';
  d.style.fontSize = size + 'px';
  d.style.lineHeight = size + 'px';
  d.style.top = (yc - size / 2) + 'px';
  document.body.appendChild(d);
}

/* ── BUILD ALL 32 PANELS ─────────────────────────── */
QUADS.forEach(q => {
  const c = CURRENCIES[q.cur];
  const look = LOOKS[q.look];
  MODELS.forEach((name, m) => {
    const [l, r] = q.cols[m % 2];
    const pair = Math.floor(m / 2);
    const [pt, pb] = q.rows[pair * 2];
    const [bt, bb] = q.rows[pair * 2 + 1];

    addTitle(name, l, r, q.titles[pair], look.title);

    // price panel: trend (red, on top) and observed rate (blue)
    makePanel({ l, r, t: pt, b: pb }, look,
      { min: c.min, max: c.max, ticks: c.ticks, label: q.cur },
      [
        { data: fromPairs(c.trend), borderColor: look.red, borderWidth: 2.2, cubicInterpolationMode: 'monotone' },
        { data: onQtr(c.raw), borderColor: look.blue, borderWidth: 1, tension: 0.35 },
      ],
      { list: c.bands[m], fill: look.shade, line: look.edge });

    // probability panel
    const pinkFill = (q.look === 'soft' && m === 0) ? look.probFill : null;
    makePanel({ l, r, t: bt, b: bb }, look,
      { min: -0.035, max: 1.05, ticks: PROB_TICKS, label: 'Prob of downtrend' },
      [
        { data: c.probs[m], borderColor: look.blue, borderWidth: 1, cubicInterpolationMode: 'monotone' },
      ],
      { list: c.bands[m], fill: pinkFill, line: look.probEdge });
  });
});
</script>
</body>
</html>
